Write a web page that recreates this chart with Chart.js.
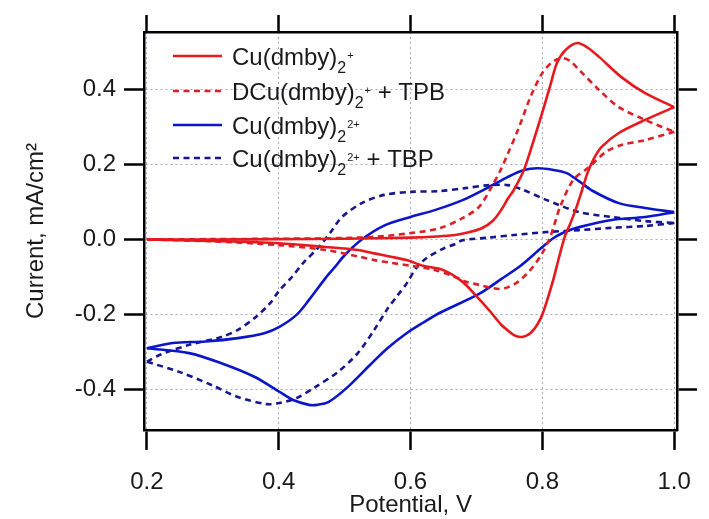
<!DOCTYPE html>
<html>
<head>
<meta charset="utf-8">
<script src="https://cdn.jsdelivr.net/npm/chart.js@4.4.1/dist/chart.umd.min.js"></script>
<style>
  html, body { margin: 0; padding: 0; background: #fff; }
  canvas { display: block; }
</style>
</head>
<body>
<canvas id="cvChart" width="709" height="519"></canvas>
<script>
// [potential V, current mA/cm2], each loop split into the anodic and the cathodic sweep
const cuPlusUp = [[0.2,0.0],[0.3,0.0],[0.4,0.001],[0.5,0.002],[0.6,0.005],[0.64,0.008],[0.668,0.012],[0.69,0.02],[0.708,0.03],[0.725,0.05],[0.738,0.08],[0.748,0.11],[0.756,0.13],[0.772,0.185],[0.787,0.265],[0.801,0.345],[0.812,0.41],[0.822,0.47],[0.835,0.505],[0.853,0.524],[0.87,0.51],[0.886,0.487],[0.92,0.433],[0.956,0.39],[1.0,0.353]];
const cuPlusDown = [[1.0,0.353],[0.956,0.319],[0.916,0.284],[0.89,0.247],[0.878,0.215],[0.868,0.175],[0.86,0.13],[0.852,0.087],[0.843,0.045],[0.834,0.007],[0.825,-0.05],[0.817,-0.105],[0.808,-0.158],[0.8,-0.2],[0.792,-0.228],[0.783,-0.248],[0.775,-0.257],[0.767,-0.26],[0.757,-0.255],[0.748,-0.243],[0.738,-0.228],[0.719,-0.188],[0.701,-0.153],[0.679,-0.113],[0.649,-0.081],[0.619,-0.07],[0.594,-0.055],[0.57,-0.046],[0.545,-0.037],[0.52,-0.028],[0.471,-0.02],[0.4,-0.01],[0.3,-0.004],[0.2,0.0]];
const dcuTpbUp = [[0.2,0.0],[0.3,0.001],[0.4,0.002],[0.471,0.003],[0.545,0.007],[0.6,0.017],[0.644,0.03],[0.679,0.057],[0.704,0.087],[0.723,0.14],[0.738,0.19],[0.748,0.23],[0.763,0.292],[0.782,0.38],[0.8,0.444],[0.815,0.473],[0.83,0.484],[0.842,0.476],[0.856,0.452],[0.886,0.399],[0.916,0.353],[0.956,0.319],[1.0,0.287]];
const dcuTpbDown = [[1.0,0.287],[0.956,0.265],[0.92,0.252],[0.896,0.233],[0.871,0.193],[0.847,0.159],[0.827,0.087],[0.812,0.007],[0.797,-0.045],[0.78,-0.085],[0.763,-0.113],[0.748,-0.127],[0.735,-0.132],[0.72,-0.128],[0.704,-0.121],[0.683,-0.112],[0.664,-0.097],[0.634,-0.08],[0.6,-0.07],[0.57,-0.062],[0.545,-0.055],[0.52,-0.045],[0.471,-0.028],[0.4,-0.015],[0.3,-0.005],[0.2,0.0]];
const cu2Up = [[0.2,-0.29],[0.239,-0.276],[0.289,-0.272],[0.338,-0.263],[0.378,-0.25],[0.401,-0.233],[0.427,-0.201],[0.446,-0.161],[0.471,-0.103],[0.486,-0.072],[0.5,-0.042],[0.526,0.0],[0.56,0.037],[0.6,0.06],[0.638,0.079],[0.679,0.105],[0.719,0.14],[0.748,0.167],[0.772,0.185],[0.793,0.19],[0.815,0.186],[0.837,0.177],[0.856,0.155],[0.876,0.13],[0.916,0.097],[0.956,0.084],[1.0,0.073]];
const cu2Down = [[1.0,0.073],[0.956,0.06],[0.905,0.052],[0.856,0.033],[0.837,0.022],[0.817,0.004],[0.797,-0.025],[0.767,-0.07],[0.738,-0.105],[0.704,-0.145],[0.644,-0.196],[0.619,-0.222],[0.594,-0.25],[0.565,-0.29],[0.54,-0.332],[0.505,-0.393],[0.476,-0.433],[0.458,-0.441],[0.446,-0.441],[0.422,-0.428],[0.401,-0.406],[0.363,-0.366],[0.313,-0.33],[0.264,-0.303],[0.2,-0.29]];
const cu2TbpUp = [[0.2,-0.326],[0.219,-0.308],[0.264,-0.281],[0.313,-0.26],[0.338,-0.241],[0.363,-0.21],[0.387,-0.17],[0.4,-0.138],[0.42,-0.1],[0.437,-0.063],[0.461,-0.02],[0.479,0.02],[0.496,0.06],[0.526,0.097],[0.56,0.119],[0.6,0.127],[0.644,0.129],[0.683,0.137],[0.719,0.145],[0.748,0.145],[0.767,0.135],[0.807,0.105],[0.856,0.073],[0.905,0.06],[0.956,0.049],[1.0,0.044]];
const cu2TbpDown = [[1.0,0.044],[0.956,0.036],[0.905,0.031],[0.856,0.025],[0.807,0.02],[0.757,0.012],[0.719,0.005],[0.679,-0.002],[0.668,-0.012],[0.649,-0.025],[0.624,-0.05],[0.609,-0.075],[0.595,-0.115],[0.58,-0.15],[0.565,-0.185],[0.545,-0.241],[0.52,-0.303],[0.49,-0.353],[0.456,-0.393],[0.427,-0.423],[0.401,-0.436],[0.382,-0.439],[0.338,-0.42],[0.298,-0.388],[0.249,-0.353],[0.2,-0.326]];

const potentialTicks = [0.2, 0.4, 0.6, 0.8, 1.0];
const currentTicks = [-0.4, -0.2, 0.0, 0.2, 0.4];

const RED = '#e6191e';
const RED_DASH = '#dc2028';
const BLUE = '#0c16c8';
const BLUE_DASH = '#16168e';
const DASH = [6, 4.5];
const FONT = "'Liberation Sans', Arial, sans-serif";

// legend entries: name, subscript, superscript, trailing text
const legendRows = [
    { name: 'Cu(dmby)', sub: '2', sup: '+', tail: '', color: RED, dash: [] },
    { name: 'DCu(dmby)', sub: '2', sup: '+', tail: ' + TPB', color: RED_DASH, dash: DASH },
    { name: 'Cu(dmby)', sub: '2', sup: '2+', tail: '', color: BLUE, dash: [] },
    { name: 'Cu(dmby)', sub: '2', sup: '2+', tail: ' + TBP', color: BLUE_DASH, dash: DASH }
];

function toXY(points) {
    return points.map(p => ({ x: p[0], y: p[1] }));
}

function sweep(points, color, dash) {
    return {
        data: toXY(points),
        borderColor: color,
        borderWidth: 2.6,
        borderDash: dash,
        showLine: true,
        pointRadius: 0,
        tension: 0.3,
        fill: false
    };
}

// draws the legend with sub/superscripts in the upper left of the plot
const chemLegend = {
    id: 'chemLegend',
    afterDraw(chart) {
        const ctx = chart.ctx;
        const rowY = [56, 91, 125, 158];
        ctx.save();
        legendRows.forEach((row, i) => {
            const y = rowY[i];
            ctx.strokeStyle = row.color;
            ctx.lineWidth = 2.6;
            ctx.setLineDash(row.dash);
            ctx.beginPath();
            ctx.moveTo(173, y);
            ctx.lineTo(222, y);
            ctx.stroke();
            ctx.setLineDash([]);

            ctx.fillStyle = '#1a1a1a';
            ctx.textBaseline = 'alphabetic';
            let x = 232;
            const base = y + 8.5;
            ctx.font = '24px ' + FONT;
            ctx.fillText(row.name, x, base);
            x += ctx.measureText(row.name).width;
            ctx.font = '16px ' + FONT;
            ctx.fillText(row.sub, x, base + 8);
            x += ctx.measureText(row.sub).width + 1;
            ctx.font = '11px ' + FONT;
            ctx.fillText(row.sup, x, y + 3);
            x += ctx.measureText(row.sup).width;
            if (row.tail) {
                ctx.font = '24px ' + FONT;
                ctx.fillText(row.tail, x, base);
            }
        });
        ctx.restore();
    }
};

const axisGrid = {
    color: '#a8a8c8',
    lineWidth: 1,
    drawTicks: true,
    tickLength: 20,
    tickWidth: 2.5,
    tickColor: '#000',
    tickBorderDash: []
};
// border.dash sets the dotted pattern of the grid lines in Chart.js v4
const axisBorder = { display: true, color: '#000', width: 2.5, dash: [2, 3] };
const tickFont = { family: FONT, size: 24 };

const ctx = document.getElementById('cvChart').getContext('2d');
const cvChart = new Chart(ctx, {
    type: 'scatter',
    data: {
        datasets: [
            sweep(cuPlusUp, RED, []),
            sweep(cuPlusDown, RED, []),
            sweep(dcuTpbUp, RED_DASH, DASH),
            sweep(dcuTpbDown, RED_DASH, DASH),
            sweep(cu2Up, BLUE, []),
            sweep(cu2Down, BLUE, []),
            sweep(cu2TbpUp, BLUE_DASH, DASH),
            sweep(cu2TbpDown, BLUE_DASH, DASH)
        ]
    },
    options: {
        responsive: false,
        animation: false,
        devicePixelRatio: 1,
        layout: { padding: 0 },
        plugins: {
            legend: { display: false },
            tooltip: { enabled: false }
        },
        scales: {
            x: {
                type: 'linear',
                position: 'bottom',
                min: 0.1956,
                max: 1.0044,
                afterBuildTicks: s => { s.ticks = potentialTicks.map(v => ({ value: v })); },
                afterFit: s => { s.height = 89; },
                grid: axisGrid,
                border: axisBorder,
                ticks: {
                    autoSkip: false,
                    maxRotation: 0,
                    padding: 18,
                    color: '#1a1a1a',
                    font: tickFont,
                    callback: v => v.toFixed(1)
                },
                title: {
                    display: true,
                    text: 'Potential, V',
                    color: '#1a1a1a',
                    font: tickFont,
                    padding: { top: 0, bottom: -1 }
                }
            },
            y: {
                type: 'linear',
                position: 'left',
                min: -0.508,
                max: 0.5533,
                afterBuildTicks: s => { s.ticks = currentTicks.map(v => ({ value: v })); },
                afterFit: s => { s.width = 144; },
                grid: axisGrid,
                border: axisBorder,
                ticks: {
                    autoSkip: false,
                    padding: 8,
                    color: '#1a1a1a',
                    font: tickFont,
                    callback: v => v.toFixed(1)
                },
                title: {
                    display: true,
                    text: 'Current, mA/cm\u00b2',
                    color: '#1a1a1a',
                    font: tickFont,
                    padding: { top: 22, bottom: 0 }
                }
            },
            x2: {
                type: 'linear',
                position: 'top',
                min: 0.1956,
                max: 1.0044,
                afterBuildTicks: s => { s.ticks = potentialTicks.map(v => ({ value: v })); },
                afterFit: s => { s.height = 32; },
                grid: Object.assign({}, axisGrid, { drawOnChartArea: false, tickLength: 17 }),
                border: axisBorder,
                ticks: { display: false }
            },
            y2: {
                type: 'linear',
                position: 'right',
                min: -0.508,
                max: 0.5533,
                afterBuildTicks: s => { s.ticks = currentTicks.map(v => ({ value: v })); },
                afterFit: s => { s.width = 19; },
                grid: Object.assign({}, axisGrid, { drawOnChartArea: false }),
                border: axisBorder,
                ticks: { display: false }
            }
        }
    },
    plugins: [chemLegend]
});
</script>
</body>
</html>
